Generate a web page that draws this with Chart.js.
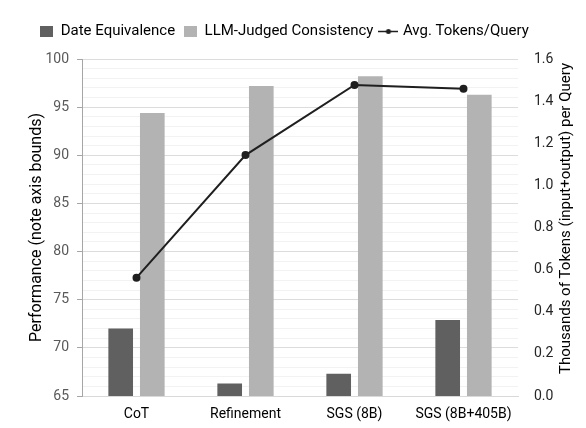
<!DOCTYPE html>
<html>
<head>
<meta charset="utf-8">
<script src="https://cdn.jsdelivr.net/npm/chart.js@4.4.1/dist/chart.umd.min.js"></script>
<style>
  html, body { margin: 0; padding: 0; background: #fff; }
  #wrap { width: 586px; height: 428px; }
</style>
</head>
<body>
<div id="wrap"><canvas id="grafico"></canvas></div>
<script>
const categorias = ['CoT', 'Refinement', 'SGS (8B)', 'SGS (8B+405B)'];
const dateEquivalence = [72.0, 66.3, 67.3, 72.9];
const llmConsistency = [94.4, 97.2, 98.2, 96.3];
const avgTokens = [0.562, 1.144, 1.477, 1.459];

const corEscura = '#606060';
const corClara = '#b3b3b3';
const corLinha = '#1f1f1f';
const fonte = 'Roboto, "Noto Sans", sans-serif';
const tituloDireito = 'Thousands of Tokens (input+output) per Query';

function iconeCaixa(cor) {
    const c = document.createElement('canvas');
    c.width = 13; c.height = 11;
    const g = c.getContext('2d');
    g.fillStyle = cor;
    g.fillRect(0, 0, 13, 11);
    return c;
}

function iconeLinha() {
    const c = document.createElement('canvas');
    c.width = 20; c.height = 7;
    const g = c.getContext('2d');
    g.strokeStyle = corLinha;
    g.lineWidth = 1.5;
    g.beginPath(); g.moveTo(0, 3.5); g.lineTo(20, 3.5); g.stroke();
    g.fillStyle = corLinha;
    g.beginPath(); g.arc(10, 3.5, 2.5, 0, Math.PI * 2); g.fill();
    return c;
}

const icones = [iconeCaixa(corEscura), iconeCaixa(corClara), iconeLinha()];

// altura fixa da legenda e leve deslocamento para a esquerda
const ajusteLegenda = {
    id: 'ajusteLegenda',
    beforeInit(chart) {
        const lg = chart.legend;
        const fit = lg.fit;
        lg.fit = function() {
            fit.bind(lg)();
            this.height = 43;
        };
        const draw = lg.draw;
        lg.draw = function() {
            const c = chart.ctx;
            c.save();
            c.translate(-18, 0);
            draw.bind(lg)();
            c.restore();
        };
    }
};

// título do eixo direito lido de baixo para cima
const tituloEixoDireito = {
    id: 'tituloEixoDireito',
    afterDraw(chart) {
        const s = chart.scales.y1;
        const area = chart.chartArea;
        const c = chart.ctx;
        c.save();
        c.translate(s.right - 15, (area.top + area.bottom) / 2 - 9);
        c.rotate(-Math.PI / 2);
        c.font = '15px ' + fonte;
        c.fillStyle = '#000';
        c.textAlign = 'center';
        c.textBaseline = 'middle';
        c.fillText(tituloDireito, 0, 0);
        c.restore();
    }
};

const ctx = document.getElementById('grafico').getContext('2d');
new Chart(ctx, {
    data: {
        labels: categorias,
        datasets: [
            {
                type: 'line',
                label: 'Avg. Tokens/Query',
                data: avgTokens,
                yAxisID: 'y1',
                borderColor: corLinha,
                backgroundColor: corLinha,
                borderWidth: 2,
                pointRadius: 3,
                pointHoverRadius: 3,
                order: 0
            },
            {
                type: 'bar',
                label: 'Date Equivalence',
                data: dateEquivalence,
                yAxisID: 'y',
                backgroundColor: corEscura,
                categoryPercentage: 0.58,
                barPercentage: 0.78,
                order: 1
            },
            {
                type: 'bar',
                label: 'LLM-Judged Consistency',
                data: llmConsistency,
                yAxisID: 'y',
                backgroundColor: corClara,
                categoryPercentage: 0.58,
                barPercentage: 0.78,
                order: 1
            }
        ]
    },
    plugins: [ajusteLegenda, tituloEixoDireito],
    options: {
        responsive: true,
        maintainAspectRatio: false,
        animation: false,
        layout: { padding: { left: 23, right: 5, top: 16, bottom: 0 } },
        plugins: {
            tooltip: { enabled: false },
            legend: {
                position: 'top',
                labels: {
                    usePointStyle: true,
                    pointStyleWidth: 14,
                    font: { family: fonte, size: 15 },
                    color: '#000',
                    padding: 8,
                    generateLabels: function(chart) {
                        const ordem = [1, 2, 0];
                        return ordem.map(function(i, k) {
                            const ds = chart.data.datasets[i];
                            return {
                                text: ds.label,
                                datasetIndex: i,
                                pointStyle: icones[k],
                                fontColor: '#000',
                                hidden: false,
                                lineWidth: 0,
                                strokeStyle: 'transparent',
                                fillStyle: 'transparent'
                            };
                        });
                    }
                }
            }
        },
        scales: {
            x: {
                grid: { display: false, drawTicks: false },
                border: { color: '#d9d9d9' },
                ticks: { color: '#000', font: { family: fonte, size: 14 }, padding: 10, maxRotation: 0, autoSkip: false },
                afterFit: function(s) { s.height = 32; }
            },
            y: {
                position: 'left',
                min: 65,
                max: 100,
                ticks: {
                    stepSize: 1,
                    autoSkip: false,
                    color: '#595959',
                    padding: 8,
                    font: { family: fonte, size: 14 },
                    callback: function(v) { return v % 5 === 0 ? v : ''; }
                },
                grid: {
                    color: function(c) { return c.tick && c.tick.value % 5 === 0 ? '#dcdcdc' : '#f2f2f2'; },
                    tickColor: function(c) { return c.tick && c.tick.value % 5 === 0 ? '#a6a6a6' : 'transparent'; },
                    tickLength: 5
                },
                border: { color: '#a6a6a6' },
                title: {
                    display: true,
                    text: 'Performance (note axis bounds)',
                    color: '#000',
                    font: { family: fonte, size: 16 }
                },
                afterFit: function(s) { s.width = 59; }
            },
            y1: {
                position: 'right',
                min: 0,
                max: 1.6,
                ticks: {
                    stepSize: 0.2,
                    color: '#262626',
                    padding: 16,
                    font: { family: fonte, size: 14 },
                    callback: function(v) { return v.toFixed(1); }
                },
                grid: { display: false, drawTicks: false },
                border: { display: false },
                title: {
                    display: true,
                    text: tituloDireito,
                    color: 'transparent',
                    font: { family: fonte, size: 15 }
                },
                afterFit: function(s) { s.width = 63; }
            }
        }
    }
});
</script>
</body>
</html>
